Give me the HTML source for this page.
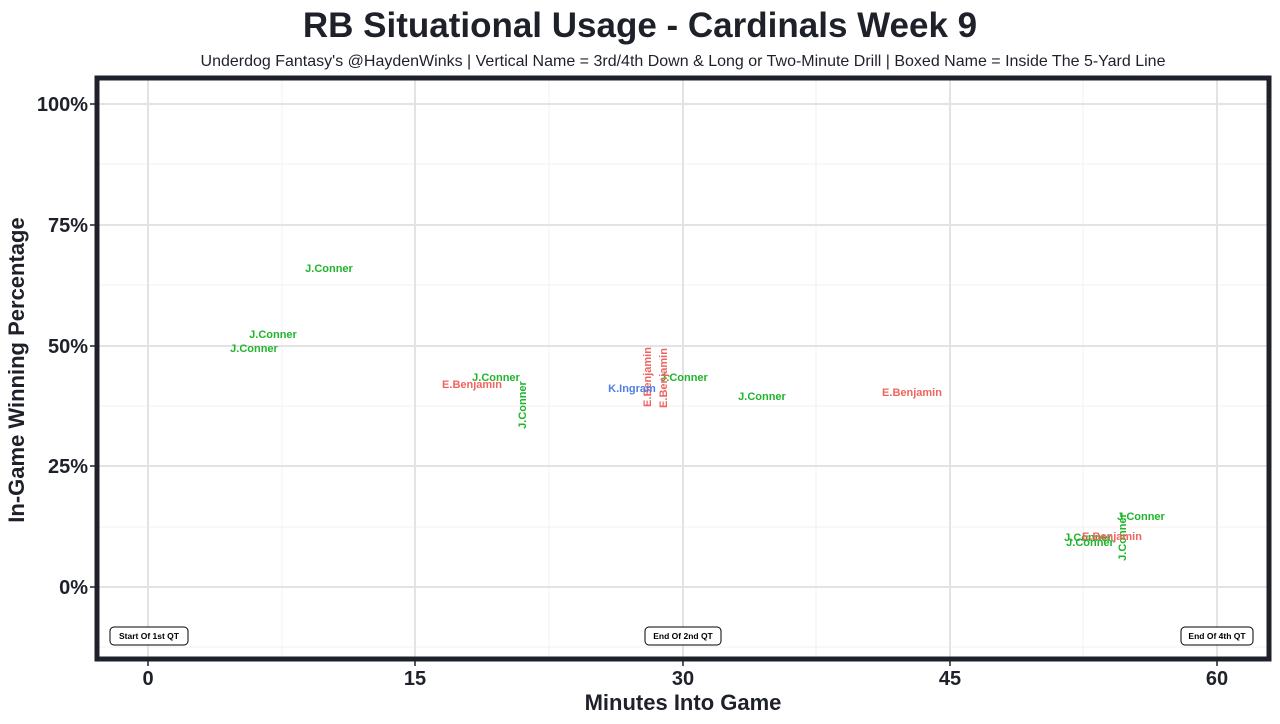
<!DOCTYPE html>
<html><head><meta charset="utf-8"><style>body{margin:0;background:#fff}svg{display:block}</style></head><body>
<svg width="1280" height="724" xmlns="http://www.w3.org/2000/svg" font-family="Liberation Sans, Arial, sans-serif">
<rect width="1280" height="724" fill="#fff"/>
<text x="640" y="37" text-anchor="middle" font-size="35" font-weight="bold" fill="#1e2129">RB Situational Usage - Cardinals Week 9</text>
<text x="683" y="66" text-anchor="middle" font-size="16" fill="#1e2129">Underdog Fantasy's @HaydenWinks | Vertical Name = 3rd/4th Down &amp; Long or Two-Minute Drill | Boxed Name = Inside The 5-Yard Line</text>
<g stroke="#f0f0f0" stroke-width="1">
<line x1="282" y1="80" x2="282" y2="657"/><line x1="549" y1="80" x2="549" y2="657"/><line x1="816" y1="80" x2="816" y2="657"/><line x1="1083" y1="80" x2="1083" y2="657"/>
<line x1="99" y1="164" x2="1267" y2="164"/><line x1="99" y1="285" x2="1267" y2="285"/><line x1="99" y1="406" x2="1267" y2="406"/><line x1="99" y1="527" x2="1267" y2="527"/><line x1="99" y1="647" x2="1267" y2="647"/>
</g>
<g stroke="#e3e3e3" stroke-width="2">
<line x1="148" y1="80" x2="148" y2="657"/><line x1="415" y1="80" x2="415" y2="657"/><line x1="683" y1="80" x2="683" y2="657"/><line x1="950" y1="80" x2="950" y2="657"/><line x1="1217" y1="80" x2="1217" y2="657"/>
<line x1="99" y1="104" x2="1267" y2="104"/><line x1="99" y1="225" x2="1267" y2="225"/><line x1="99" y1="346" x2="1267" y2="346"/><line x1="99" y1="466" x2="1267" y2="466"/><line x1="99" y1="587" x2="1267" y2="587"/>
</g>
<rect x="97" y="78" width="1172" height="581" fill="none" stroke="#1e2129" stroke-width="5"/>
<g stroke="#1e2129" stroke-width="1.5">
<line x1="148" y1="661" x2="148" y2="666"/><line x1="415" y1="661" x2="415" y2="666"/><line x1="683" y1="661" x2="683" y2="666"/><line x1="950" y1="661" x2="950" y2="666"/><line x1="1217" y1="661" x2="1217" y2="666"/>
<line x1="90" y1="104" x2="95" y2="104"/><line x1="90" y1="225" x2="95" y2="225"/><line x1="90" y1="346" x2="95" y2="346"/><line x1="90" y1="466" x2="95" y2="466"/><line x1="90" y1="587" x2="95" y2="587"/>
</g>
<g font-size="20" font-weight="bold" fill="#1e2129">
<g text-anchor="end"><text x="88" y="111">100%</text><text x="88" y="232">75%</text><text x="88" y="353">50%</text><text x="88" y="473">25%</text><text x="88" y="594">0%</text></g>
<g text-anchor="middle"><text x="148" y="685">0</text><text x="415" y="685">15</text><text x="683" y="685">30</text><text x="950" y="685">45</text><text x="1217" y="685">60</text></g>
</g>
<text x="683" y="710" text-anchor="middle" font-size="22" font-weight="bold" fill="#1e2129">Minutes Into Game</text>
<text transform="translate(24,370) rotate(-90)" text-anchor="middle" font-size="22" font-weight="bold" fill="#1e2129">In-Game Winning Percentage</text>
<g font-size="8.5" font-weight="bold" fill="#000" text-anchor="middle">
<rect x="110" y="627" width="78" height="18" rx="4" fill="#fff" stroke="#000"/><text x="149" y="639">Start Of 1st QT</text>
<rect x="645" y="627" width="76" height="18" rx="4" fill="#fff" stroke="#000"/><text x="683" y="639">End Of 2nd QT</text>
<rect x="1181" y="627" width="72" height="18" rx="4" fill="#fff" stroke="#000"/><text x="1217" y="639">End Of 4th QT</text>
</g>
<g font-size="11" font-weight="bold" text-anchor="middle" dominant-baseline="central">
<g fill="#1fb52c">
<text x="329" y="269">J.Conner</text><text x="273" y="335">J.Conner</text><text x="254" y="349">J.Conner</text>
<text x="496" y="378">J.Conner</text><text transform="translate(523,405) rotate(-90)">J.Conner</text>
<text x="684" y="378">J.Conner</text><text x="762" y="397">J.Conner</text>
<text x="1088" y="538">J.Conner</text><text x="1090" y="543">J.Conner</text><text x="1141" y="517">J.Conner</text>
<text transform="translate(1123,537) rotate(-90)">J.Conner</text>
</g>
<g fill="#f0645f">
<text x="472" y="385">E.Benjamin</text><text transform="translate(648,377) rotate(-90)">E.Benjamin</text>
<text transform="translate(664,378) rotate(-90)">E.Benjamin</text><text x="912" y="393">E.Benjamin</text>
<text x="1112" y="537">E.Benjamin</text>
</g>
<text x="632" y="389" fill="#4e7fe8">K.Ingram</text>
</g>
</svg>
</body></html>
